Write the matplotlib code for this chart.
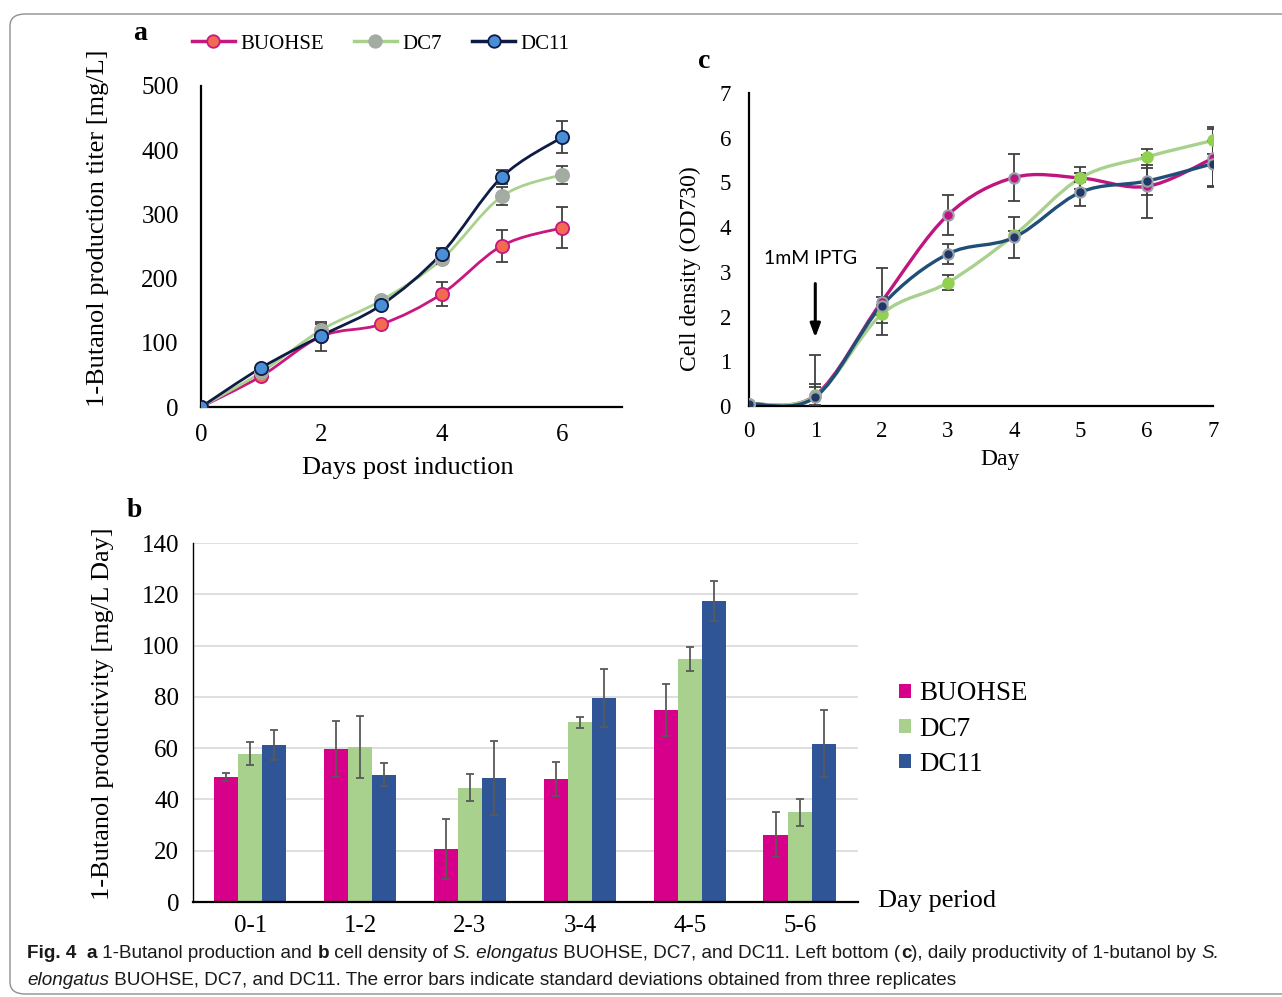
import numpy as np
import matplotlib
matplotlib.use("Agg")
import matplotlib.pyplot as plt
from matplotlib.path import Path
from matplotlib.patches import PathPatch, Patch, FancyBboxPatch
from matplotlib.lines import Line2D

# ---- data: panel a (1-butanol titer, mg/L) ----
days_a = [0, 1, 2, 3, 4, 5, 6]
titer_buohse = [0, 48, 110, 129, 176, 251, 279]
titer_buohse_err = [0, 0, 22, 0, 19, 25, 32]
titer_dc7 = [0, 54, 120, 166, 230, 328, 362]
titer_dc7_err = [0, 0, 10, 5, 8, 14, 14]
titer_dc11 = [0, 61, 111, 159, 239, 358, 420]
titer_dc11_err = [0, 0, 0, 4, 9, 11, 25]

# ---- data: panel c (cell density OD730) ----
days_c = [0, 1, 2, 3, 4, 5, 6, 7]
od_buohse = [0.05, 0.24, 2.33, 4.27, 5.11, 5.10, 4.91, 5.54]
od_buohse_err = [0, 0.9, 0.75, 0.45, 0.53, 0.25, 0.7, 0.65]
od_dc7 = [0.05, 0.22, 2.05, 2.76, 3.82, 5.10, 5.57, 5.94]
od_dc7_err = [0, 0.2, 0.2, 0.17, 0.1, 0.1, 0.18, 0.3]
od_dc11 = [0.05, 0.20, 2.24, 3.40, 3.77, 4.78, 5.03, 5.42]
od_dc11_err = [0, 0.3, 0.2, 0.23, 0.45, 0.3, 0.3, 0.5]

# ---- data: panel b (daily productivity, mg/L Day) ----
periods = ["0-1", "1-2", "2-3", "3-4", "4-5", "5-6"]
prod_buohse = [48.8, 59.7, 20.8, 48.0, 74.8, 26.3]
prod_buohse_err = [1.5, 10.8, 11.7, 6.6, 10.2, 8.8]
prod_dc7 = [57.9, 60.5, 44.6, 70.1, 94.8, 35.0]
prod_dc7_err = [4.4, 12.0, 5.2, 2.2, 4.8, 5.2]
prod_dc11 = [61.2, 49.7, 48.4, 79.7, 117.3, 61.8]
prod_dc11_err = [5.8, 4.5, 14.3, 11.3, 7.8, 13.0]

W, H = 1282, 997
SERIF = "Liberation Serif"
CAPFONT = ["Liberation Sans Narrow", "Liberation Sans", "DejaVu Sans"]


def fx(px):
    return px / W


def fy(py):
    return 1 - py / H


def smooth_path(xs, ys):
    # Excel-style smoothed line through the points (cubic Bezier segments)
    pts = np.column_stack([xs, ys]).astype(float)
    n = len(pts)
    verts = [pts[0]]
    codes = [Path.MOVETO]
    for i in range(n - 1):
        p0 = pts[i - 1] if i > 0 else pts[i]
        p1, p2 = pts[i], pts[i + 1]
        p3 = pts[i + 2] if i + 2 < n else pts[i + 1]
        verts += [p1 + (p2 - p0) / 6, p2 - (p3 - p1) / 6, p2]
        codes += [Path.CURVE4] * 3
    return Path(verts, codes)


def style_axes(ax):
    for s in ["top", "right"]:
        ax.spines[s].set_visible(False)
    for s in ["left", "bottom"]:
        ax.spines[s].set_linewidth(1.6)
        ax.spines[s].set_color("black")


fig = plt.figure(figsize=(W / 100, H / 100), dpi=100)

# outer frame
frame = FancyBboxPatch((fx(10), fy(994)), fx(1300) - fx(10), fy(14) - fy(994),
                       boxstyle="round,pad=0,rounding_size=0.012",
                       transform=fig.transFigure, fill=False,
                       edgecolor="#8f8f8f", linewidth=1.0)
fig.patches.append(frame)

# ================= panel a =================
ax_a = fig.add_axes([fx(201), fy(407), fx(622) - fx(201), fy(86) - fy(407)])
style_axes(ax_a)
series_a = [
    ("BUOHSE", titer_buohse, titer_buohse_err, "#c8177f", "#f26a4f", "#c8177f"),
    ("DC7", titer_dc7, titer_dc7_err, "#a9d18e", "#a3aba3", "#a3aba3"),
    ("DC11", titer_dc11, titer_dc11_err, "#0d1b45", "#4a8fd6", "#0d1b45"),
]
handles_a = []
for name, vals, err, lc, mfc, mec in series_a:
    ax_a.add_patch(PathPatch(smooth_path(days_a, vals), fill=False,
                             edgecolor=lc, linewidth=2.0, zorder=2))
    e = np.array(err, dtype=float)
    e[e == 0] = np.nan
    ax_a.errorbar(days_a, vals, yerr=e, fmt="none", ecolor="#404040",
                  elinewidth=1.3, capsize=4, capthick=1.3, zorder=3)
    ax_a.plot(days_a, vals, "o", ms=9.5, mfc=mfc, mec=mec, mew=1.3, zorder=4)
    handles_a.append(Line2D([], [], color=lc, lw=2.5, marker="o", ms=9,
                            mfc=mfc, mec=mec, mew=1.3))
ax_a.set_xlim(0, 7)
ax_a.set_ylim(0, 500)
ax_a.set_xticks([0, 2, 4, 6])
ax_a.set_yticks(range(0, 501, 100))
ax_a.tick_params(length=0, labelsize=18)
ax_a.tick_params(axis="y", pad=16)
ax_a.tick_params(axis="x", pad=12)
for lab in ax_a.get_xticklabels() + ax_a.get_yticklabels():
    lab.set_fontfamily(SERIF)
fig.text(fx(408), fy(468), "Days post induction", fontsize=19, fontfamily=SERIF,
         ha="center", va="center")
fig.text(fx(98), fy(228), "1-Butanol production titer [mg/L]", rotation=90,
         ha="center", va="center", fontsize=19, fontfamily=SERIF)
fig.legend(handles=handles_a, labels=[s[0] for s in series_a], loc="center left",
           bbox_to_anchor=(fx(173), fy(44)), ncol=3, frameon=False,
           handlelength=2.07, handletextpad=0.25, columnspacing=1.45,
           prop={"family": SERIF, "size": 15})
fig.text(fx(133), fy(34), "a", fontsize=20, fontweight="bold", fontfamily=SERIF,
         ha="left", va="center")

# ================= panel c =================
ax_c = fig.add_axes([fx(749), fy(406), fx(1213) - fx(749), fy(93) - fy(406)])
style_axes(ax_c)
series_c = [
    (od_buohse, od_buohse_err, "#c0157f", "#c0157f", "#9aa3ad"),
    (od_dc7, od_dc7_err, "#a9d18e", "#92d050", "#92d050"),
    (od_dc11, od_dc11_err, "#1f4e79", "#1f3864", "#9aa3ad"),
]
for vals, err, lc, mfc, mec in series_c:
    ax_c.add_patch(PathPatch(smooth_path(days_c, vals), fill=False,
                             edgecolor=lc, linewidth=2.4, zorder=2))
    e = np.array(err, dtype=float)
    e[e == 0] = np.nan
    ax_c.errorbar(days_c, vals, yerr=e, fmt="none", ecolor="#404040",
                  elinewidth=1.3, capsize=4, capthick=1.3, zorder=3)
    ax_c.plot(days_c, vals, "o", ms=7.5, mfc=mfc, mec=mec, mew=1.5, zorder=4)
ax_c.set_xlim(0, 7)
ax_c.set_ylim(0, 7)
ax_c.set_xticks(range(0, 8))
ax_c.set_yticks(range(0, 8))
ax_c.tick_params(length=0, labelsize=16.5)
ax_c.tick_params(axis="y", pad=13)
ax_c.tick_params(axis="x", pad=11)
for lab in ax_c.get_xticklabels() + ax_c.get_yticklabels():
    lab.set_fontfamily(SERIF)
fig.text(fx(1000), fy(460), "Day", fontsize=17, fontfamily=SERIF,
         ha="center", va="center")
fig.text(fx(690), fy(269), "Cell density (OD730)", rotation=90,
         ha="center", va="center", fontsize=17, fontfamily=SERIF)
ax_c.annotate("", xy=(1, 1.47), xytext=(1, 2.8),
              arrowprops=dict(arrowstyle="-|>,head_length=0.8,head_width=0.3",
                              color="black", lw=2.2))
ax_c.text(0.935, 3.3, "1mM IPTG", fontsize=14, fontfamily="Lato",
          ha="center", va="center")
fig.text(fx(698), fy(61), "c", fontsize=20, fontweight="bold", fontfamily=SERIF,
         ha="left", va="center")

# ================= panel b =================
ax_b = fig.add_axes([fx(193), fy(902), fx(858) - fx(193), fy(543) - fy(902)])
style_axes(ax_b)
ax_b.spines["left"].set_linewidth(1.0)
x = np.arange(len(periods))
bw = 0.22
series_b = [
    ("BUOHSE", prod_buohse, prod_buohse_err, "#d6008a"),
    ("DC7", prod_dc7, prod_dc7_err, "#a9d18e"),
    ("DC11", prod_dc11, prod_dc11_err, "#2f5597"),
]
handles_b = []
for i, (name, vals, err, col) in enumerate(series_b):
    pos = x + (i - 1) * bw
    ax_b.bar(pos, vals, width=bw, color=col, zorder=2)
    ax_b.errorbar(pos, vals, yerr=err, fmt="none", ecolor="#595959",
                  elinewidth=1.3, capsize=3, capthick=1.3, zorder=3)
    handles_b.append(Patch(facecolor=col))
ax_b.set_xlim(-0.52, 5.53)
ax_b.set_ylim(0, 140)
ax_b.set_yticks(range(0, 141, 20))
ax_b.set_xticks(x)
ax_b.set_xticklabels(periods)
ax_b.yaxis.grid(True, color="#d9d9d9", linewidth=1.2, zorder=0)
ax_b.set_axisbelow(True)
ax_b.tick_params(length=0, labelsize=18)
ax_b.tick_params(axis="y", pad=10)
ax_b.tick_params(axis="x", pad=9)
for lab in ax_b.get_xticklabels() + ax_b.get_yticklabels():
    lab.set_fontfamily(SERIF)
fig.text(fx(103), fy(714), "1-Butanol productivity [mg/L Day]", rotation=90,
         ha="center", va="center", fontsize=19, fontfamily=SERIF)
fig.text(fx(878), fy(901), "Day period", fontsize=19, fontfamily=SERIF,
         ha="left", va="center")
fig.legend(handles=handles_b, labels=[s[0] for s in series_b], loc="center left",
           bbox_to_anchor=(fx(875), fy(729)), frameon=False,
           handlelength=0.42, handleheight=0.42, handletextpad=0.3,
           labelspacing=0.38, prop={"family": SERIF, "size": 19.5})
fig.text(fx(127), fy(510), "b", fontsize=20, fontweight="bold", fontfamily=SERIF,
         ha="left", va="center")

# ================= caption =================
line1 = [("Fig. 4", "bold"), ("  ", "normal"), ("a", "bold"),
         (" 1-Butanol production and ", "normal"), ("b", "bold"),
         (" cell density of ", "normal"), ("S. elongatus", "italic"),
         (" BUOHSE, DC7, and DC11. Left bottom (", "normal"), ("c", "bold"),
         ("), daily productivity of 1-butanol by ", "normal"), ("S.", "italic")]
line2 = [("elongatus", "italic"),
         (" BUOHSE, DC7, and DC11. The error bars indicate standard deviations "
          "obtained from three replicates", "normal")]

renderer = fig.canvas.get_renderer()


def draw_pieces(pieces, x0, y0, size):
    xcur = x0
    for txt, st in pieces:
        kw = dict(fontsize=size, fontfamily=CAPFONT, va="center", ha="left",
                  color="#1a1a1a")
        if st == "bold":
            kw["fontweight"] = "bold"
        elif st == "italic":
            kw["fontstyle"] = "italic"
        t = fig.text(xcur, y0, txt, **kw)
        xcur += t.get_window_extent(renderer).width / W
    return xcur


# size caption so that the first line spans the same width as the original
probe = fig.text(0, 0, "".join(p[0] for p in line1), fontsize=10,
                 fontfamily=CAPFONT)
w10 = probe.get_window_extent(renderer).width
probe.remove()
cap_size = 10 * (1222 - 27) / w10
draw_pieces(line1, fx(27), fy(953), cap_size)
draw_pieces(line2, fx(27), fy(980), cap_size)

fig.savefig("out.png", dpi=100)
